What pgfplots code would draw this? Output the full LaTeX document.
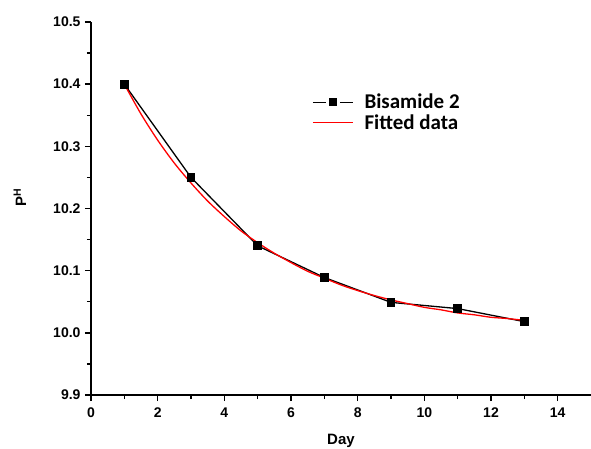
\documentclass[border=0pt]{standalone}
\usepackage{fontspec}
\setmainfont{Liberation Sans}
\newfontfamily\legfont{Carlito}
\usepackage{pgfplots}
\pgfplotsset{compat=1.18}
\begin{document}
\begin{tikzpicture}[x=1pt,y=1pt]
\useasboundingbox (0,0) rectangle (591,448);
\begin{axis}[
  at={(91pt,53pt)}, anchor=south west,
  scale only axis, width=500pt, height=373pt,
  xmin=0, xmax=15, ymin=9.9, ymax=10.5,
  axis x line*=bottom, axis y line*=left,
  axis line style={line width=1.6pt, -},
  xtick={0,2,4,6,8,10,12,14},
  ytick={9.9,10.0,10.1,10.2,10.3,10.4,10.5},
  minor x tick num=1, minor y tick num=1,
  tick align=outside, major tick length=6pt, minor tick length=4pt,
  every tick/.style={black, line width=1.4pt},
  /pgf/number format/assume math mode=true,
  yticklabel style={/pgf/number format/fixed, /pgf/number format/fixed zerofill, /pgf/number format/precision=1, xshift=-1pt},
  xticklabel style={yshift=-3pt},
  tick label style={font=\bfseries\fontsize{14}{15}\selectfont},
  xlabel={Day},
  xlabel style={font=\bfseries\fontsize{15}{16}\selectfont, at={(axis description cs:0.5,-0.122)}, anchor=center},
  ylabel={P\textsuperscript{H}},
  ylabel style={font=\bfseries\fontsize{15}{16}\selectfont, at={(axis description cs:-0.142,0.53)}, anchor=center},
  legend style={draw=none, fill=none, at={(axis description cs:0.436,0.815)}, anchor=north west,
    font=\legfont\bfseries\fontsize{21}{21}\selectfont, row sep=2pt,
    nodes={inner sep=1pt},
    /tikz/every odd column/.append style={column sep=10pt}},
  legend cell align=left,
  clip=false,
]
\addplot[black, line width=1.3pt, mark=square*, mark size=3.8pt,
  legend image code/.code={\draw[line width=1.3pt] (0pt,0pt)--(13pt,0pt) (27pt,0pt)--(40pt,0pt);
    \fill[black] (17pt,-3.2pt) rectangle (23pt,3.2pt);}]
  coordinates {(1,10.400) (3,10.250) (5,10.140) (7,10.089) (9,10.049) (11,10.039) (13,10.018)};
\addlegendentry{Bisamide 2}
\addplot[red, line width=1.3pt, smooth, mark=none,
  legend image code/.code={\draw[red,line width=1.3pt] (0pt,0pt)--(40pt,0pt);}]
  coordinates {(1,10.400) (1.5,10.352) (2,10.310) (2.5,10.273) (3,10.241) (3.5,10.212)
   (4,10.187) (4.5,10.164) (5,10.145) (5.5,10.128) (6,10.113) (6.5,10.099) (7,10.088)
   (7.5,10.077) (8,10.068) (8.5,10.060) (9,10.053) (9.5,10.047) (10,10.041) (10.5,10.037)
   (11,10.032) (11.5,10.029) (12,10.025) (12.5,10.023) (13,10.020)};
\addlegendentry{Fitted data}
\end{axis}
\end{tikzpicture}
\end{document}
